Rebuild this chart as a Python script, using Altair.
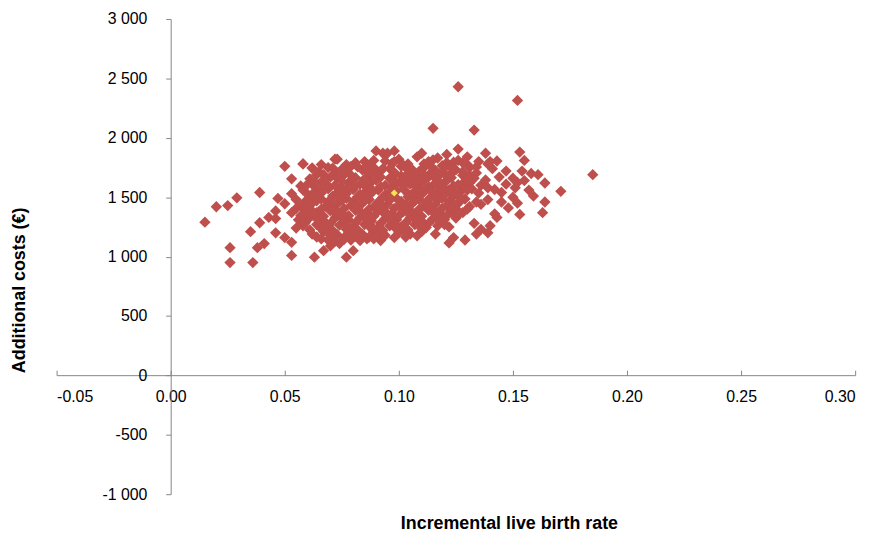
import altair as alt
import pandas as pd

# Incremental live birth rate vs additional costs (bootstrap / PSA samples)
outliers = [
    (0.126, 2430), (0.152, 2315), (0.115, 2080), (0.133, 2065), (0.185, 1690),
    (0.015, 1290), (0.020, 1420), (0.025, 1430), (0.029, 1495), (0.039, 1540),
    (0.026, 1075), (0.026, 950), (0.036, 950), (0.035, 1210), (0.039, 1285),
    (0.043, 1330), (0.046, 1385), (0.046, 1320), (0.041, 1110), (0.038, 1075),
    (0.047, 1490), (0.050, 1445), (0.046, 1200), (0.050, 1160), (0.053, 1120),
    (0.053, 1010), (0.063, 995), (0.077, 995), (0.080, 1050), (0.074, 1110),
    (0.050, 1760), (0.058, 1780), (0.062, 1745), (0.072, 1820), (0.090, 1890),
    (0.098, 1890), (0.095, 1870), (0.053, 1655), (0.057, 1595), (0.053, 1530),
    (0.126, 1905), (0.130, 1840), (0.138, 1870), (0.143, 1805), (0.153, 1880),
    (0.155, 1810), (0.171, 1550), (0.164, 1620), (0.161, 1690), (0.158, 1700),
    (0.164, 1460), (0.163, 1370), (0.148, 1410), (0.153, 1355), (0.139, 1200),
    (0.134, 1190), (0.129, 1140), (0.122, 1115), (0.124, 1160), (0.116, 1190),
    (0.133, 1280), (0.150, 1660), (0.155, 1640), (0.157, 1560), (0.159, 1510),
    (0.145, 1540), (0.147, 1610), (0.151, 1580), (0.140, 1800), (0.147, 1720),
    (0.067, 1050), (0.070, 1090), (0.058, 1260), (0.055, 1240), (0.060, 1320),
    (0.150, 1500), (0.152, 1450), (0.143, 1330), (0.140, 1260), (0.136, 1230),
    (0.154, 1720), (0.145, 1460), (0.142, 1360),
]

core = [
    (0.073, 1820), (0.081, 1790), (0.085, 1800), (0.093, 1870), (0.094, 1805),
    (0.100, 1820), (0.104, 1780), (0.108, 1840), (0.113, 1800), (0.117, 1830),
    (0.121, 1790), (0.126, 1810), (0.130, 1775), (0.135, 1800), (0.139, 1780),
    (0.121, 1860), (0.110, 1870),
    (0.058, 1780), (0.062, 1745), (0.069, 1750), (0.075, 1735), (0.079, 1760),
    (0.084, 1730), (0.089, 1750), (0.096, 1740), (0.101, 1760), (0.106, 1730),
    (0.111, 1750), (0.116, 1725), (0.120, 1745), (0.125, 1730), (0.131, 1750),
    (0.141, 1740),
    (0.064, 1690), (0.070, 1670), (0.076, 1690), (0.081, 1665), (0.087, 1685),
    (0.092, 1670), (0.098, 1690), (0.103, 1660), (0.108, 1680), (0.113, 1670),
    (0.118, 1690), (0.123, 1665), (0.128, 1685), (0.133, 1660), (0.144, 1670),
    (0.060, 1610), (0.066, 1625), (0.072, 1600), (0.078, 1620), (0.083, 1610),
    (0.088, 1630), (0.094, 1600), (0.099, 1620), (0.105, 1610), (0.110, 1630),
    (0.115, 1600), (0.120, 1625), (0.126, 1605), (0.131, 1620), (0.136, 1600),
    (0.152, 1625),
    (0.058, 1560), (0.063, 1545), (0.069, 1570), (0.074, 1550), (0.080, 1565),
    (0.085, 1540), (0.091, 1560), (0.096, 1545), (0.102, 1570), (0.107, 1550),
    (0.112, 1565), (0.117, 1540), (0.122, 1560), (0.127, 1545), (0.132, 1570),
    (0.142, 1565),
    (0.055, 1480), (0.061, 1500), (0.066, 1485), (0.071, 1510), (0.077, 1490),
    (0.082, 1505), (0.087, 1480), (0.093, 1500), (0.099, 1490), (0.104, 1505),
    (0.109, 1480), (0.114, 1500), (0.119, 1490), (0.124, 1510), (0.129, 1485),
    (0.139, 1480),
    (0.057, 1430), (0.062, 1450), (0.068, 1425), (0.073, 1445), (0.079, 1430),
    (0.084, 1450), (0.089, 1420), (0.095, 1440), (0.100, 1430), (0.106, 1450),
    (0.111, 1425), (0.116, 1440), (0.121, 1430), (0.126, 1450), (0.131, 1420),
    (0.136, 1440),
    (0.053, 1370), (0.059, 1390), (0.064, 1370), (0.070, 1385), (0.075, 1365),
    (0.081, 1390), (0.086, 1370), (0.091, 1385), (0.097, 1360), (0.102, 1380),
    (0.108, 1370), (0.113, 1390), (0.118, 1365), (0.123, 1380), (0.128, 1370),
    (0.056, 1310), (0.061, 1330), (0.067, 1305), (0.072, 1325), (0.078, 1310),
    (0.083, 1330), (0.088, 1300), (0.094, 1320), (0.099, 1310), (0.105, 1330),
    (0.110, 1300), (0.115, 1320), (0.120, 1310), (0.125, 1325),
    (0.064, 1270), (0.069, 1245), (0.074, 1265), (0.080, 1250), (0.085, 1270),
    (0.091, 1245), (0.096, 1260), (0.101, 1250), (0.107, 1270), (0.112, 1245),
    (0.117, 1260), (0.122, 1250),
    (0.062, 1190), (0.067, 1210), (0.073, 1185), (0.078, 1200), (0.084, 1190),
    (0.089, 1210), (0.094, 1180), (0.100, 1200), (0.105, 1190), (0.110, 1210),
    (0.066, 1150), (0.072, 1130), (0.079, 1140), (0.086, 1150), (0.092, 1135),
    (0.098, 1160),
    (0.077, 1775), (0.087, 1760), (0.097, 1785), (0.102, 1770), (0.111, 1780),
    (0.119, 1765), (0.128, 1790), (0.066, 1775),
    (0.065, 1715), (0.072, 1705), (0.077, 1720), (0.087, 1700), (0.092, 1720),
    (0.098, 1710), (0.104, 1700), (0.109, 1720), (0.114, 1705), (0.123, 1700),
    (0.128, 1715), (0.134, 1705),
    (0.061, 1655), (0.067, 1645), (0.073, 1660), (0.079, 1640), (0.085, 1655),
    (0.090, 1645), (0.096, 1660), (0.101, 1640), (0.106, 1650), (0.111, 1645),
    (0.116, 1660), (0.121, 1640), (0.130, 1650), (0.138, 1645),
    (0.063, 1590), (0.069, 1595), (0.075, 1585), (0.081, 1595), (0.086, 1580),
    (0.092, 1590), (0.097, 1580), (0.102, 1595), (0.108, 1585), (0.113, 1590),
    (0.118, 1580), (0.124, 1595), (0.129, 1585), (0.139, 1580),
    (0.060, 1525), (0.066, 1535), (0.072, 1520), (0.077, 1530), (0.083, 1525),
    (0.088, 1535), (0.094, 1520), (0.104, 1530), (0.110, 1525), (0.115, 1535),
    (0.120, 1520), (0.125, 1530), (0.135, 1535),
    (0.059, 1465), (0.064, 1470), (0.069, 1460), (0.075, 1475), (0.080, 1465),
    (0.085, 1470), (0.091, 1460), (0.096, 1475), (0.101, 1465), (0.107, 1470),
    (0.112, 1460), (0.117, 1475), (0.122, 1465), (0.127, 1470), (0.134, 1460),
    (0.055, 1405), (0.060, 1415), (0.066, 1400), (0.071, 1410), (0.076, 1405),
    (0.082, 1415), (0.087, 1400), (0.092, 1410), (0.098, 1405), (0.103, 1415),
    (0.109, 1400), (0.114, 1410), (0.119, 1405), (0.124, 1415), (0.130, 1400),
    (0.057, 1345), (0.062, 1350), (0.067, 1340), (0.073, 1355), (0.078, 1345),
    (0.084, 1350), (0.089, 1340), (0.094, 1355), (0.100, 1345), (0.105, 1350),
    (0.110, 1340), (0.116, 1355), (0.121, 1345), (0.126, 1350),
    (0.059, 1285), (0.065, 1290), (0.070, 1280), (0.076, 1295), (0.081, 1285),
    (0.086, 1290), (0.092, 1280), (0.097, 1295), (0.103, 1285), (0.108, 1290),
    (0.113, 1280), (0.118, 1295),
    (0.061, 1225), (0.066, 1235), (0.071, 1220), (0.077, 1230), (0.082, 1225),
    (0.088, 1235), (0.093, 1220), (0.099, 1230), (0.104, 1225), (0.110, 1235),
    (0.064, 1165), (0.070, 1175), (0.076, 1160), (0.081, 1170), (0.087, 1165),
    (0.092, 1175), (0.103, 1165), (0.108, 1175),
]

fill = [
    (0.089, 1810), (0.098, 1800), (0.115, 1815), (0.124, 1795),
    (0.071, 1745), (0.082, 1755), (0.093, 1740), (0.103, 1750), (0.114, 1760),
    (0.123, 1745), (0.134, 1755),
    (0.067, 1690), (0.079, 1685), (0.090, 1695), (0.101, 1680), (0.111, 1690),
    (0.120, 1700), (0.131, 1685),
    (0.063, 1630), (0.075, 1635), (0.086, 1625), (0.097, 1640), (0.107, 1630),
    (0.118, 1620), (0.129, 1635),
    (0.066, 1565), (0.077, 1560), (0.088, 1570), (0.099, 1555), (0.110, 1565),
    (0.120, 1575), (0.130, 1560),
    (0.064, 1505), (0.074, 1495), (0.085, 1505), (0.096, 1510), (0.107, 1495),
    (0.117, 1505), (0.127, 1500),
    (0.060, 1440), (0.071, 1445), (0.081, 1435), (0.092, 1445), (0.103, 1440),
    (0.113, 1450), (0.124, 1435),
    (0.062, 1385), (0.073, 1375), (0.083, 1385), (0.094, 1380), (0.105, 1390),
    (0.116, 1375), (0.126, 1385),
    (0.064, 1320), (0.075, 1325), (0.086, 1315), (0.096, 1325), (0.107, 1320),
    (0.118, 1315),
    (0.067, 1260), (0.077, 1265), (0.088, 1255), (0.099, 1265), (0.110, 1260),
    (0.120, 1270),
    (0.070, 1200), (0.081, 1205), (0.092, 1200), (0.103, 1210),
    (0.069, 1140), (0.076, 1145), (0.083, 1135), (0.089, 1150),
]

mean_point = [(0.098, 1536)]

x_ticks = [-0.05, 0.0, 0.05, 0.10, 0.15, 0.20, 0.25, 0.30]
y_ticks = [-1000, -500, 0, 500, 1000, 1500, 2000, 2500, 3000]

samples = outliers + core + fill
df = pd.DataFrame(samples, columns=["lbr", "cost"])
df_mean = pd.DataFrame(mean_point, columns=["lbr", "cost"])
df_ticks = pd.DataFrame({"lbr": x_ticks})

FONT = "Liberation Sans"
AX = "#868686"

xscale = alt.Scale(domain=[-0.05, 0.30], nice=False, zero=False)
yscale = alt.Scale(domain=[-1000, 3000], nice=False, zero=False)

x_axis = alt.Axis(
    orient="bottom", offset=-120, values=x_ticks, grid=False,
    ticks=False, tickSize=0, domainColor=AX, domainWidth=1,
    labelFont=FONT, labelFontSize=16, labelColor="#000000", labelPadding=14,
    labelExpr="replace(format(datum.value, '.2f'), '\u2212', '-')",
    title="Incremental live birth rate", titleFont=FONT, titleFontSize=18,
    titleFontWeight="bold", titleColor="#000000",
    titleX=456, titleY=150, titleAlign="center", titleBaseline="middle",
)

y_axis = alt.Axis(
    orient="left", offset=-115, values=y_ticks, grid=False,
    ticks=True, tickSize=5, tickColor=AX, domainColor=AX, domainWidth=1,
    labelFont=FONT, labelFontSize=16, labelColor="#000000", labelPadding=19,
    labelExpr="replace(replace(format(datum.value, ','), ',', ' '), '\u2212', '-')",
    title="Additional costs (\u20ac)", titleFont=FONT, titleFontSize=18,
    titleFontWeight="bold", titleColor="#000000",
    titleX=-152, titleY=273, titleAngle=270, titleAlign="center",
    titleBaseline="middle",
)

points = alt.Chart(df).mark_point(
    shape="diamond", filled=True, size=130, color="#BF4F4C", opacity=1
).encode(
    x=alt.X("lbr:Q", scale=xscale, axis=x_axis),
    y=alt.Y("cost:Q", scale=yscale, axis=y_axis),
)

tick_layer = alt.Chart(df_ticks).mark_point(opacity=0).encode(
    x=alt.X("lbr:Q", scale=xscale, axis=alt.Axis(
        orient="top", offset=-359, values=x_ticks, grid=False,
        labels=False, domain=False, ticks=True, tickSize=5,
        tickColor=AX, title="")),
)

mean_layer = alt.Chart(df_mean).mark_point(
    shape="diamond", filled=True, size=50, color="#F2E547", opacity=1
).encode(
    x=alt.X("lbr:Q", scale=xscale, axis=None),
    y=alt.Y("cost:Q", scale=yscale),
)

chart = alt.layer(points, tick_layer, mean_layer).resolve_axis(
    x="independent"
).properties(
    width=805, height=479,
    background="white",
    autosize=alt.AutoSizeParams(type="none"),
    padding={"left": 49, "top": 9, "right": 20, "bottom": 40},
).configure_view(strokeWidth=0, stroke="transparent")

chart.save("out.html", embed_options={"renderer": "svg", "actions": False})
